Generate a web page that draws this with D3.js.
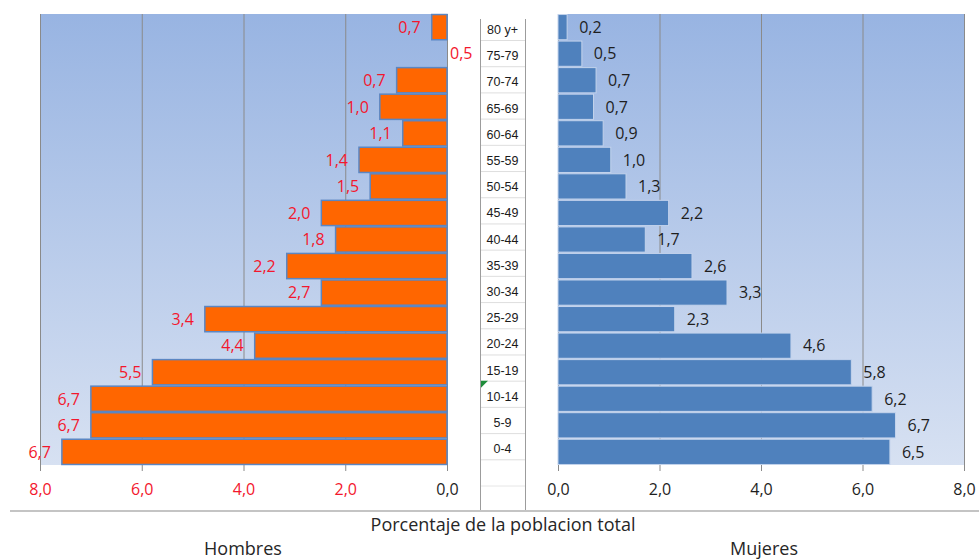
<!DOCTYPE html>
<html>
<head>
<meta charset="utf-8">
<script src="https://cdn.jsdelivr.net/npm/d3@7"></script>
<style>
  body { margin: 0; background: #fff; }
  svg { display: block; font-family: "Open Sans", sans-serif; }
</style>
</head>
<body>
<div id="chart"></div>
<script>
const width = 979;
const height = 560;

// age groups, top to bottom
const ages = ["80 y+", "75-79", "70-74", "65-69", "60-64", "55-59", "50-54", "45-49",
  "40-44", "35-39", "30-34", "25-29", "20-24", "15-19", "10-14", "5-9", "0-4"];

// bar lengths (as drawn) and the printed data labels
const hombres = [0.30, 0, 0.99, 1.32, 0.87, 1.73, 1.51, 2.47, 2.19, 3.15, 2.47, 4.76, 3.78, 5.79, 7.0, 7.0, 7.57];
const hombresLabels = [0.7, 0.5, 0.7, 1.0, 1.1, 1.4, 1.5, 2.0, 1.8, 2.2, 2.7, 3.4, 4.4, 5.5, 6.7, 6.7, 6.7];
const mujeres = [0.18, 0.47, 0.75, 0.70, 0.89, 1.04, 1.34, 2.18, 1.72, 2.64, 3.33, 2.30, 4.59, 5.78, 6.19, 6.65, 6.54];
const mujeresLabels = [0.2, 0.5, 0.7, 0.7, 0.9, 1.0, 1.3, 2.2, 1.7, 2.6, 3.3, 2.3, 4.6, 5.8, 6.2, 6.7, 6.5];

const ticks = [0, 2, 4, 6, 8];

const fmt = d3.formatLocale({decimal: ",", thousands: ".", grouping: [3], currency: ["", ""]}).format(".1f");

const svg = d3.select("#chart").append("svg")
  .attr("width", width)
  .attr("height", height);

const defs = svg.append("defs");
const grad = defs.append("linearGradient")
  .attr("id", "bg").attr("x1", 0).attr("y1", 0).attr("x2", 0).attr("y2", 1);
grad.append("stop").attr("offset", "0%").attr("stop-color", "#98b4e2");
grad.append("stop").attr("offset", "100%").attr("stop-color", "#d7e1f2");

const plotTop = 14, plotBottom = 465;

const y = d3.scaleBand().domain(ages).range([plotTop, plotBottom]).paddingInner(0.05).paddingOuter(0.02);
const xL = d3.scaleLinear().domain([8, 0]).range([40, 447]);
const xR = d3.scaleLinear().domain([0, 8]).range([558, 964]);

function panel(x, values, labels, side) {
  const g = svg.append("g");
  const [x0, x1] = d3.extent(x.range());

  g.append("rect")
    .attr("x", x0).attr("y", plotTop)
    .attr("width", x1 - x0).attr("height", plotBottom - plotTop)
    .attr("fill", "url(#bg)");

  g.selectAll("line.grid")
    .data(ticks)
    .join("line")
    .attr("class", "grid")
    .attr("x1", d => x(d) + 0.5).attr("x2", d => x(d) + 0.5)
    .attr("y1", plotTop).attr("y2", plotBottom)
    .attr("stroke", "#8a8a8a").attr("stroke-width", 1);

  const rows = ages.map((a, i) => ({age: a, v: values[i], lab: labels[i]}));

  g.selectAll("rect.bar")
    .data(rows.filter(d => d.v > 0))
    .join("rect")
    .attr("class", "bar")
    .attr("x", d => Math.min(x(0), x(d.v)))
    .attr("width", d => Math.abs(x(d.v) - x(0)))
    .attr("y", d => y(d.age))
    .attr("height", y.bandwidth())
    .attr("fill", side === "left" ? "#ff6600" : "#4f81bd")
    .attr("stroke", side === "left" ? "#5b86c2" : "#c3d3ec")
    .attr("stroke-width", side === "left" ? 1.5 : 1);

  g.selectAll("text.lab")
    .data(rows)
    .join("text")
    .attr("class", "lab")
    .attr("x", d => {
      if (side === "left") return d.v > 0 ? x(d.v) - 11 : x(0) + 3;
      return x(d.v) + 12;
    })
    .attr("y", d => y(d.age) + y.bandwidth() / 2)
    .attr("dy", "0.36em")
    .attr("text-anchor", d => (side === "left" && d.v > 0) ? "end" : "start")
    .attr("font-size", 16)
    .attr("fill", side === "left" ? "#f3172d" : "#1e1e1e")
    .text(d => fmt(d.lab));

  const axis = g.append("g")
    .attr("transform", `translate(0,${plotBottom})`)
    .call(d3.axisBottom(x).tickValues(ticks).tickSize(6).tickPadding(13).tickFormat(fmt));
  axis.select(".domain").remove();
  axis.selectAll(".tick line").attr("stroke", "#8a8a8a");
  axis.selectAll(".tick text")
    .attr("font-size", 16)
    .attr("font-family", "Open Sans, sans-serif")
    .attr("fill", d => (side === "left" && d !== 0) ? "#f3172d" : "#1e1e1e");
}

panel(xL, hombres, hombresLabels, "left");
panel(xR, mujeres, mujeresLabels, "right");

// age label column (sheet cells between the two charts)
const cells = d3.scaleBand().domain(ages).range([13.8, 459.3]);
const col = svg.append("g");
col.append("rect")
  .attr("x", 480).attr("y", 19).attr("width", 45).attr("height", 492)
  .attr("fill", "#fff");
col.selectAll("line.row")
  .data(ages.slice(1).concat(["_end"]))
  .join("line")
  .attr("class", "row")
  .attr("x1", 481).attr("x2", 525)
  .attr("y1", d => d === "_end" ? cells.range()[1] + 0.5 : cells(d) + 0.5)
  .attr("y2", d => d === "_end" ? cells.range()[1] + 0.5 : cells(d) + 0.5)
  .attr("stroke", "#dedede");
col.append("line")
  .attr("x1", 481).attr("x2", 525)
  .attr("y1", cells.range()[1] + cells.step() + 0.5)
  .attr("y2", cells.range()[1] + cells.step() + 0.5)
  .attr("stroke", "#e6e6e6");
col.selectAll("line.side")
  .data([480, 525])
  .join("line")
  .attr("class", "side")
  .attr("x1", d => d + 0.5).attr("x2", d => d + 0.5)
  .attr("y1", 19).attr("y2", 511)
  .attr("stroke", "#9c9c9c");
col.selectAll("text")
  .data(ages)
  .join("text")
  .attr("x", 502.5)
  .attr("y", d => cells(d) + cells.bandwidth() / 2 + 2.5)
  .attr("dy", "0.36em")
  .attr("text-anchor", "middle")
  .attr("font-family", "Liberation Sans, Arial, sans-serif")
  .attr("font-size", 12.5)
  .attr("fill", "#1a1a1a")
  .text(d => d);
// green cell marker
col.append("path")
  .attr("d", `M481,${cells("10-14")} l7,0 l-7,7 Z`)
  .attr("fill", "#1e8c3a");

// frame bottom line
svg.append("line")
  .attr("x1", 10).attr("x2", width)
  .attr("y1", 511).attr("y2", 511)
  .attr("stroke", "#c4c4c4").attr("stroke-width", 2);

svg.append("text")
  .attr("x", 503).attr("y", 531)
  .attr("text-anchor", "middle")
  .attr("font-size", 18)
  .attr("fill", "#262626")
  .text("Porcentaje de la poblacion total");

svg.selectAll("text.title")
  .data([{t: "Hombres", x: 243}, {t: "Mujeres", x: 764}])
  .join("text")
  .attr("class", "title")
  .attr("x", d => d.x).attr("y", 555)
  .attr("text-anchor", "middle")
  .attr("font-size", 18)
  .attr("fill", "#262626")
  .text(d => d.t);
</script>
</body>
</html>
